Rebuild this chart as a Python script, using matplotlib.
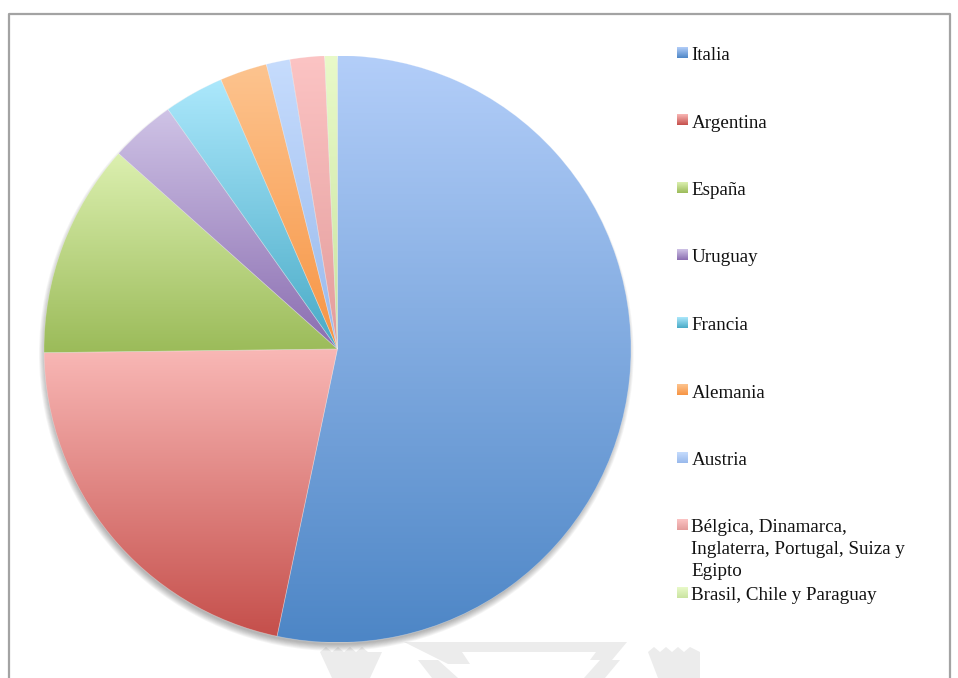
import numpy as np
import matplotlib
matplotlib.use("Agg")
import matplotlib.pyplot as plt
from matplotlib.patches import Circle, Polygon
from matplotlib.colors import to_rgb

# Country of origin shares (percent)
paises = [
    "Italia",
    "Argentina",
    "España",
    "Uruguay",
    "Francia",
    "Alemania",
    "Austria",
    "Bélgica, Dinamarca,\nInglaterra, Portugal, Suiza y\nEgipto",
    "Brasil, Chile y Paraguay",
]
porcentajes = [53.3, 21.5, 11.8, 3.6, 3.3, 2.6, 1.3, 1.9, 0.7]

# Vertical gradient of each slice: light top, darker bottom
color_claro = ["#b3cef9", "#f9b8b6", "#dcf0b0", "#cfc3e6", "#ace8fc",
               "#fdc48f", "#c6dcfd", "#fcc4c4", "#e9fac9"]
color_oscuro = ["#4d86c6", "#c54f4b", "#9bbb59", "#8a6db0", "#48aac6",
                "#f79443", "#98b9ec", "#e39c9b", "#c9e3a0"]

W, H = 958, 678
fig = plt.figure(figsize=(W / 100, H / 100), dpi=100)
fig.patch.set_facecolor("white")

# Full-figure overlay in pixel coordinates (frame, watermark, legend)
ov = fig.add_axes([0, 0, 1, 1])
ov.set_xlim(0, W)
ov.set_ylim(H, 0)
ov.axis("off")

# Frame
ov.plot([9.5, 9.5, 950.5, 950.5], [H + 5, 14, 14, H + 5],
        color="#a3a3a3", lw=1.6, solid_capstyle="butt")

# Light watermark shapes at the bottom
gris = "#ececec"
ov.add_patch(Polygon([(320, 652), (326, 647), (332, 652), (338, 647), (344, 652),
                      (350, 647), (356, 652), (362, 647), (368, 652), (382, 652),
                      (370, 678), (332, 678)], closed=True, color=gris, lw=0))
ov.add_patch(Polygon([(648, 652), (654, 647), (660, 652), (666, 647), (672, 652),
                      (678, 647), (684, 652), (690, 647), (700, 652), (700, 678),
                      (658, 678)], closed=True, color=gris, lw=0))
ov.add_patch(Polygon([(404, 642), (627, 642), (612, 660), (590, 660), (596, 652),
                      (462, 652), (470, 664), (448, 664)], closed=True, color=gris, lw=0))
ov.add_patch(Polygon([(418, 660), (438, 660), (458, 678), (432, 678)],
                     closed=True, color=gris, lw=0))
ov.add_patch(Polygon([(600, 660), (620, 660), (605, 678), (584, 678)],
                     closed=True, color=gris, lw=0))


def gradiente(c1, c2, n=256):
    a, b = np.array(to_rgb(c1)), np.array(to_rgb(c2))
    t = np.linspace(0, 1, n)[:, None]
    return (a * (1 - t) + b * t)[:, None, :]


# Pie axes: center and radius in pixels
cx, cy, r = 337.5, 349.0, 293.5
ax = fig.add_axes([(cx - r) / W, (H - cy - r) / H, 2 * r / W, 2 * r / H])
ax.axis("off")

# Soft drop shadow, mostly below the disc
for k in range(8):
    ax.add_patch(Circle((-0.004, -0.016), 0.992 + 0.003 * k, color="black",
                        alpha=0.04, lw=0, zorder=0, clip_on=False))

wedges, _ = ax.pie(porcentajes, startangle=90, counterclock=False,
                   radius=1.0, center=(0, 0), frame=False)

for w, c1, c2 in zip(wedges, color_claro, color_oscuro):
    t1, t2 = np.deg2rad(w.theta1), np.deg2rad(w.theta2)
    ang = np.linspace(t1, t2, 200)
    ys = np.concatenate([np.sin(ang), [0.0]])
    y0, y1 = ys.min(), ys.max()
    w.set_facecolor("none")
    w.set_edgecolor((1, 1, 1, 0.3))
    w.set_linewidth(0.5)
    w.set_zorder(3)
    im = ax.imshow(gradiente(c1, c2), extent=(-1.0, 1.0, y0, y1), origin="upper",
                   aspect="auto", interpolation="bilinear", zorder=2)
    im.set_clip_path(w)

ax.set_xlim(-1, 1)
ax.set_ylim(-1, 1)
ax.set_aspect("auto")

# Legend
fuente = dict(family=["Liberation Serif", "DejaVu Serif"], size=13.7, color="#111111")
for i, (nombre, c1, c2) in enumerate(zip(paises, color_claro, color_oscuro)):
    base = 60 + 67.5 * i
    ov.imshow(gradiente(c1, c2), extent=(677, 688, base - 2, base - 12.7),
              aspect="auto", interpolation="bilinear", zorder=2)
    for j, linea in enumerate(nombre.split("\n")):
        ov.text(691.5, base + 21.7 * j, linea, va="baseline", ha="left", **fuente)

ov.set_xlim(0, W)
ov.set_ylim(H, 0)

fig.savefig("out.png", dpi=100)
